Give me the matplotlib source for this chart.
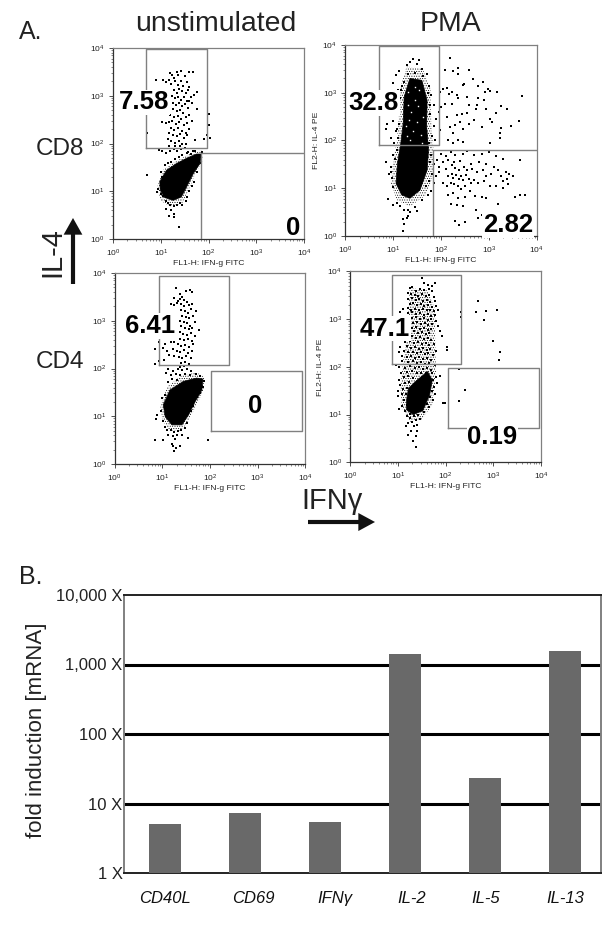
import matplotlib
matplotlib.use('Agg')
import matplotlib.pyplot as plt
import numpy as np

plt.rcParams['font.family'] = ['Liberation Sans', 'DejaVu Sans']
plt.rcParams['mathtext.default'] = 'regular'
plt.rcParams['hatch.linewidth'] = 0.4

W, H = 614, 926

# flow panels: every pair is (log10 FL1, log10 FL2)
# blob = solid core of the population, halo = stippled rim around it
cd8_un_blob = [(0.98,1.20),(1.12,1.44),(1.33,1.58),(1.54,1.69),(1.75,1.78),(1.85,1.78),(1.82,1.58),(1.68,1.37),
               (1.54,1.09),(1.43,0.88),(1.26,0.81),(1.08,0.87),(0.99,1.02)]
cd8_un_halo = [(0.93,1.10),(1.05,1.45),(1.30,1.62),(1.60,1.78),(1.85,1.86),(1.88,1.65),(1.72,1.35),(1.58,1.02),
               (1.45,0.75),(1.20,0.68),(1.00,0.80)]
cd8_un_dots = [(1.19,3.47),(1.24,3.44),(1.33,3.50),(1.43,3.52),(1.50,3.42),(1.60,3.50),(1.67,3.50),(1.37,3.44),
    (1.28,3.38),(0.90,3.33),(1.05,3.32),(1.11,3.28),(1.17,3.34),(1.22,3.25),(1.30,3.30),(1.36,3.22),(1.42,3.30),
    (1.47,3.20),(1.55,3.28),(1.60,3.18),(1.38,3.14),(1.27,3.12),(1.33,3.06),(1.45,3.10),(1.52,3.05),(1.58,3.12),
    (1.70,3.02),(1.76,3.08),(1.63,2.98),(1.24,3.00),(1.29,2.95),(1.36,2.98),(1.42,2.92),(1.48,2.97),(1.54,2.90),
    (1.60,2.88),(1.25,2.85),(1.31,2.80),(1.38,2.84),(1.44,2.78),(1.50,2.82),(1.57,2.75),(1.65,2.85),(1.75,2.72),
    (1.25,2.72),(1.33,2.68),(1.40,2.70),(1.47,2.64),(1.20,2.60),(1.28,2.56),(1.36,2.58),(1.43,2.52),(1.52,2.56),
    (1.60,2.60),(1.02,2.45),(1.10,2.42),(1.17,2.45),(1.24,2.48),(1.31,2.40),(1.38,2.45),(1.48,2.38),(1.56,2.42),
    (1.66,2.48),(1.21,2.32),(1.28,2.28),(1.36,2.33),(1.44,2.26),(1.52,2.22),(1.60,2.30),(0.72,2.22),(1.18,2.22),
    (1.25,2.18),(1.33,2.15),(1.40,2.20),(1.48,2.12),(1.56,2.18),(2.02,2.62),(2.02,2.38),(1.96,2.18),(2.04,2.12),
    (1.90,2.10),(1.72,2.08),(1.15,2.10),(1.22,2.05),(1.30,2.02),(1.38,2.06),(1.45,2.00),(1.52,1.98),(1.40,1.95),
    (1.30,1.94),(1.18,1.95),(0.96,1.86),(1.02,1.84),(1.10,1.80),(1.20,1.85),(1.28,1.88),(1.35,1.84),(1.42,1.88),
    (1.50,1.90),(1.58,1.82),(1.68,1.85),(0.72,1.35),(0.94,1.05),(0.93,0.98),(1.00,0.95),(1.02,1.30),(1.06,1.25),
    (1.00,1.40),(1.05,0.90),(1.10,0.80),(1.15,0.75),(1.20,0.72),(1.27,0.70),(1.33,0.72),(1.40,0.75),(1.45,0.72),
    (1.52,0.80),(1.55,0.88),(1.60,1.00),(1.65,1.10),(1.70,1.20),(1.75,1.40),(1.85,1.60),(1.12,0.62),(1.22,0.60),
    (1.28,0.53),(1.18,0.48),(1.27,0.46),(1.39,0.25),(1.08,1.55),(1.15,1.60),(1.22,1.62),(1.30,1.68),(1.38,1.72),
    (1.45,1.76),(1.55,1.80),(1.63,1.78),(1.72,1.85),(1.86,1.82),(1.82,1.72)]

cd8_pma_blob = [(1.35,3.30),(1.60,3.26),(1.71,2.84),(1.70,2.29),(1.74,1.80),(1.71,1.38),(1.56,0.96),(1.35,0.79),
                (1.18,0.86),(1.06,1.10),(1.09,1.52),(1.16,1.94),(1.21,2.36),(1.23,2.91)]
cd8_pma_halo = [(1.28,3.55),(1.62,3.50),(1.78,3.10),(1.80,2.30),(1.85,1.70),(1.85,1.30),(1.68,0.85),(1.35,0.62),
                (1.08,0.75),(0.95,1.10),(1.00,1.55),(1.08,2.00),(1.12,2.50),(1.15,3.10)]
cd8_pma_specks = [(1.30,3.02),(1.45,2.85),(1.38,2.60),(1.52,2.72),(1.33,2.42),(1.50,2.38),(1.42,2.20),(1.28,2.10),
    (1.58,2.12),(1.36,2.00),(1.55,3.05),(1.32,2.75),(1.62,2.50),(1.26,2.30),(1.46,3.12),(1.60,1.95)]
cd8_pma_dots = [(2.19,3.73),(2.08,3.47),(2.26,3.46),(2.36,3.51),(2.35,3.39),(2.59,3.47),(2.66,3.28),(2.88,3.23),
    (2.45,3.16),(2.48,3.19),(2.78,3.14),(2.99,3.07),(3.02,3.04),(3.16,3.02),(2.91,3.02),(3.69,2.93),(2.12,3.09),
    (2.05,3.07),(2.24,3.02),(2.33,2.95),(2.36,2.90),(2.17,2.98),(2.08,2.77),(2.22,2.77),(2.54,2.91),(2.59,2.74),
    (2.75,2.74),(2.78,2.88),(2.90,2.84),(2.73,2.67),(2.95,2.67),(3.25,2.72),(3.37,2.65),(3.15,2.58),(2.43,2.56),
    (2.54,2.58),(2.33,2.53),(2.12,2.49),(2.19,2.29),(2.29,2.32),(2.40,2.39),(2.47,2.25),(2.68,2.42),(2.59,2.35),
    (3.02,2.46),(3.06,2.39),(3.62,2.41),(3.46,2.30),(3.25,2.27),(2.85,2.29),(3.23,2.15),(3.23,2.06),(3.02,1.95),
    (2.26,2.15),(2.36,2.00),(2.47,1.97),(2.26,1.94),(2.15,2.00),
    (2.00,1.72),(2.10,1.68),(2.20,1.75),(2.30,1.70),(2.45,1.72),(2.55,1.78),(2.70,1.70),(2.85,1.72),(3.00,1.75),
    (3.15,1.68),(3.30,1.62),(3.65,1.59),(2.05,1.55),(2.15,1.60),(2.28,1.55),(2.40,1.58),(2.62,1.50),(2.80,1.55),
    (2.95,1.50),(3.10,1.45),(3.20,1.38),(3.35,1.33),(3.42,1.30),(3.50,1.25),(2.10,1.40),(2.22,1.48),(2.30,1.42),
    (2.38,1.38),(2.48,1.45),(2.55,1.38),(2.65,1.40),(2.75,1.33),(2.87,1.38),(2.95,1.25),(3.05,1.30),(3.25,1.25),
    (3.30,1.15),(3.37,1.20),(2.15,1.25),(2.22,1.30),(2.26,1.22),(2.32,1.28),(2.37,1.20),(2.42,1.25),(2.47,1.18),
    (2.53,1.28),(2.58,1.20),(2.62,1.12),(2.70,1.18),(2.78,1.10),(2.90,1.15),(3.02,1.05),(3.15,1.05),(3.30,1.00),
    (3.40,1.08),(2.05,1.10),(2.12,1.05),(2.20,1.12),(2.28,1.08),(2.35,1.05),(2.42,0.98),(2.50,1.05),(2.60,0.95),
    (2.15,0.85),(2.25,0.90),(2.35,0.80),(2.50,0.82),(2.72,0.83),(2.85,0.82),(2.95,0.80),(3.20,0.68),(3.55,0.82),
    (3.65,0.85),(3.75,0.85),(2.20,0.68),(2.33,0.65),(2.45,0.63),(2.73,0.55),(2.85,0.45),(2.78,0.37),(2.30,0.32),
    (2.38,0.22),(2.50,0.30),(0.90,0.78),(0.95,1.35),(0.85,1.55),(0.92,1.30),(1.00,0.65),(1.08,0.70),(1.15,0.62),
    (1.22,0.55),(1.30,0.55),(1.35,0.50),(1.45,0.60),(1.50,0.52),(1.20,0.35),(1.28,0.38),(1.22,0.25),(1.20,0.10),
    (1.32,0.42),(1.60,0.75),(1.72,0.85),(1.80,0.95),(1.85,1.10),(1.90,1.25),(1.95,1.35),(1.85,1.50),(1.92,1.60),
    (1.80,1.70),(1.75,1.95),(1.82,2.10),(1.85,2.30),(1.90,2.45),(1.95,2.60),(1.85,2.75),(1.80,2.95),(1.75,3.15),
    (1.70,3.40),(1.60,3.50),(1.50,3.60),(1.55,3.68),(1.42,3.70),(1.35,3.65),(1.28,3.58),(1.12,3.45),(1.05,3.38),
    (1.00,3.20),(1.18,3.15),(1.10,3.05),(1.15,2.90),(1.00,2.40),(0.88,2.35),(0.85,2.25),(1.05,2.20),(0.95,2.05),
    (1.02,1.95),(1.08,1.80),(1.00,1.70),(0.95,1.45),(1.78,1.55),(1.82,1.30),(1.75,1.15),(1.68,1.05),(1.88,2.00),
    (1.78,2.55),(1.76,2.75),(1.72,3.00),(1.62,3.35),(1.45,3.42),(1.30,3.40),(1.22,3.22),(1.16,3.05),(1.12,2.35),
    (1.08,2.25),(1.10,2.05),(1.03,1.62),(0.98,1.22),(1.00,1.02),(1.95,1.45),(1.97,2.22),(2.00,2.70),(1.98,3.02)]

cd4_un_blob = [(1.02,1.24),(1.16,1.55),(1.44,1.73),(1.72,1.80),(1.85,1.78),(1.83,1.55),(1.69,1.31),(1.55,1.03),
               (1.41,0.82),(1.20,0.82),(1.06,0.99)]
cd4_un_halo = [(0.96,1.20),(1.10,1.62),(1.40,1.85),(1.72,1.92),(1.88,1.82),(1.86,1.52),(1.70,1.20),(1.55,0.90),
               (1.40,0.70),(1.15,0.70),(1.00,0.92)]
cd4_un_dots = [(1.29,3.68),(1.36,3.55),(1.42,3.50),(1.50,3.62),(1.58,3.65),(1.62,3.60),(1.25,3.48),(1.32,3.42),
    (1.38,3.46),(1.45,3.44),(1.52,3.40),(1.18,3.35),(1.25,3.32),(1.30,3.38),(1.40,3.35),(1.46,3.30),(1.55,3.32),
    (1.62,3.36),(1.70,3.20),(1.40,3.22),(1.48,3.20),(1.54,3.16),(1.60,3.24),(1.42,3.10),(1.50,3.08),(1.56,3.05),
    (1.64,3.10),(1.38,3.00),(1.45,2.98),(1.52,2.95),(1.58,2.90),(1.68,2.98),(1.40,2.88),(1.48,2.85),(1.55,2.82),
    (1.62,2.85),(1.76,2.80),(1.36,2.76),(1.44,2.72),(1.52,2.70),(1.60,2.74),(1.68,2.68),(1.38,2.62),(1.46,2.60),
    (1.54,2.62),(1.62,2.58),(0.92,2.55),(1.05,2.52),(1.18,2.55),(1.25,2.56),(1.32,2.52),(1.40,2.48),(1.48,2.50),
    (1.56,2.46),(1.65,2.52),(0.85,2.40),(1.02,2.42),(1.10,2.36),(1.22,2.40),(1.30,2.36),(1.38,2.34),(1.46,2.38),
    (1.54,2.32),(1.62,2.36),(1.14,2.28),(1.24,2.26),(1.34,2.24),(1.42,2.22),(1.50,2.26),(1.60,2.22),(0.84,2.10),
    (0.93,2.16),(1.03,2.18),(1.40,2.12),(1.48,2.14),(1.55,2.10),(1.36,2.04),(1.46,2.06),(1.12,2.00),(1.22,1.95),
    (1.32,1.98),(1.42,1.96),(1.52,1.98),(1.60,1.94),(1.08,1.90),(1.18,1.86),(1.28,1.88),(1.38,1.86),(1.48,1.88),
    (1.58,1.86),(1.70,1.88),(1.80,1.84),(1.12,1.72),(1.20,1.78),(1.30,1.76),(1.88,1.74),(1.86,1.62),(1.78,1.48),
    (1.72,1.40),(1.65,1.22),(1.60,1.10),(1.06,1.45),(1.00,1.38),(0.88,1.02),(0.86,0.95),(0.97,1.10),(1.02,0.90),
    (1.05,0.78),(1.10,0.72),(1.18,0.72),(1.25,0.68),(1.32,0.70),(1.40,0.72),(1.48,0.75),(1.52,0.85),(1.12,0.60),
    (1.22,0.58),(1.30,0.60),(1.42,0.60),(1.26,0.52),(0.85,0.50),(1.02,0.50),(1.20,0.42),(1.22,0.38),(1.28,0.34),
    (1.37,0.38),(1.53,0.55),(1.95,0.50),(1.25,0.28)]

cd4_pma_blob = [(1.18,1.30),(1.22,1.55),(1.40,1.72),(1.62,1.90),(1.72,1.72),(1.66,1.40),(1.52,1.08),(1.32,1.00),
                (1.18,1.10)]
cd4_pma_halo = [(1.25,3.65),(1.62,3.60),(1.78,3.20),(1.78,2.50),(1.80,1.90),(1.72,1.20),(1.50,0.90),(1.25,0.85),
                (1.08,1.15),(1.05,1.60),(1.12,2.20),(1.20,2.70),(1.22,3.20)]
cd4_pma_dots = [(1.50,3.85),(1.55,3.75),(1.62,3.72),(1.72,3.70),(1.78,3.75),(1.25,3.65),(1.30,3.68),(1.38,3.58),
    (1.46,3.62),(1.54,3.60),(1.65,3.62),(1.72,3.58),(1.20,3.55),(1.28,3.52),(1.35,3.50),(1.42,3.48),(1.50,3.52),
    (1.58,3.48),(1.66,3.50),(1.75,3.46),(1.22,3.42),(1.30,3.44),(1.37,3.40),(1.45,3.42),(1.52,3.38),(1.60,3.40),
    (1.68,3.36),(1.78,3.38),(1.25,3.32),(1.32,3.34),(1.40,3.30),(1.48,3.32),(1.55,3.28),(1.63,3.30),(1.72,3.26),
    (1.80,3.28),(1.10,3.22),(1.20,3.24),(1.28,3.20),(1.36,3.22),(1.44,3.18),(1.52,3.22),(1.60,3.18),(1.68,3.20),
    (1.76,3.16),(1.84,3.18),(1.05,3.14),(1.22,3.12),(1.30,3.14),(1.38,3.10),(1.46,3.12),(1.54,3.08),(1.62,3.10),
    (1.70,3.06),(1.78,3.08),(1.30,3.02),(1.38,3.04),(1.46,3.00),(1.54,3.02),(1.62,2.98),(1.70,3.00),(1.80,2.96),
    (1.32,2.92),(1.40,2.94),(1.48,2.90),(1.56,2.92),(1.64,2.88),(1.72,2.90),(1.84,2.86),(1.30,2.82),(1.38,2.84),
    (1.46,2.80),(1.54,2.82),(1.62,2.78),(1.70,2.80),(1.88,2.76),(1.24,2.72),(1.34,2.74),(1.42,2.70),(1.50,2.72),
    (1.58,2.68),(1.66,2.70),(1.92,2.64),(1.20,2.62),(1.30,2.64),(1.38,2.60),(1.46,2.62),(1.54,2.58),(1.62,2.60),
    (1.70,2.56),(2.03,2.42),(1.14,2.52),(1.25,2.54),(1.34,2.50),(1.42,2.52),(1.50,2.48),(1.58,2.50),(1.66,2.46),
    (1.76,2.48),(1.05,2.42),(1.18,2.44),(1.28,2.40),(1.36,2.42),(1.44,2.38),(1.52,2.40),(1.60,2.36),(1.68,2.38),
    (1.80,2.34),(1.02,2.30),(1.12,2.34),(1.22,2.30),(1.32,2.32),(1.40,2.28),(1.48,2.30),(1.56,2.26),(1.64,2.28),
    (1.74,2.24),(1.08,2.22),(1.18,2.20),(1.28,2.22),(1.36,2.18),(1.44,2.20),(1.52,2.16),(1.60,2.18),(1.70,2.14),
    (0.95,2.04),(1.08,2.12),(1.22,2.10),(1.32,2.12),(1.40,2.08),(1.48,2.10),(1.56,2.06),(1.66,2.08),(1.78,2.04),
    (1.02,2.00),(1.14,1.98),(1.25,2.02),(1.36,1.98),(1.44,2.00),(1.52,1.96),(1.60,1.98),(1.70,1.94),(1.88,1.80),
    (1.06,1.88),(1.18,1.90),(1.30,1.92),(1.40,1.88),(1.48,1.86),(1.58,1.88),(1.72,1.86),(1.80,1.78),(1.02,1.72),
    (1.12,1.78),(1.22,1.80),(1.32,1.76),(1.74,1.72),(1.82,1.66),(1.04,1.62),(1.14,1.66),(1.24,1.68),(1.76,1.58),
    (1.00,1.50),(1.10,1.54),(1.18,1.56),(1.72,1.50),(1.78,1.42),(1.00,1.38),(1.08,1.42),(1.16,1.44),(1.68,1.36),
    (1.74,1.30),(1.12,1.30),(1.18,1.20),(1.08,1.18),(1.02,1.12),(1.15,1.08),(1.25,1.02),(1.60,1.22),(1.66,1.15),
    (1.54,1.05),(1.42,1.00),(1.33,0.96),(1.25,0.92),(1.18,0.98),(1.30,0.85),(1.38,0.88),(1.46,0.90),(1.22,0.82),
    (1.33,0.75),(1.40,0.78),(1.16,0.75),(1.28,0.66),(1.40,0.66),(1.20,0.58),(1.38,0.55),(1.32,0.45),(1.38,0.33),
    (1.95,1.25),(2.02,2.35),(2.32,3.15),(2.32,3.05),(2.68,3.38),(2.63,3.15),(2.85,3.17),(2.80,2.98),(3.07,3.20),
    (3.00,2.55),(3.13,2.31),(3.12,2.15),(2.27,1.95),(2.40,1.52),(2.27,1.28),(1.98,1.25)]

# (x low, x high, y low, y high) of the gates, in data units of log10
cd8_un_gates = [(0.70, 1.97, 1.91, 3.97)]
cd8_pma_gates = [(0.70, 1.965, 1.91, 3.97)]
cd4_un_gates = [(0.93, 2.39, 2.08, 3.93), (2.02, 3.93, 0.69, 1.94)]
cd4_pma_gates = [(0.87, 2.33, 2.06, 3.93), (2.05, 3.96, 0.71, 1.97)]

# bar chart
genes = ['CD40L', 'CD69', 'IFNγ', 'IL-2', 'IL-5', 'IL-13']
fold_induction = [5.0, 7.2, 5.5, 1400, 23, 1570]
fold_ticks = [1, 10, 100, 1000, 10000]
fold_tick_labels = ['1 X', '10 X', '100 X', '1,000 X', '10,000 X']
gene_label_pos = [0.0, 1.11, 2.125, 3.08, 4.01, 5.0]

GREY = '#808080'


def px_axes(fig, left, top, right, bottom):
    """add axes from pixel edges measured from the top left corner"""
    return fig.add_axes([left / W, 1 - bottom / H, (right - left) / W, (bottom - top) / H])


def label(fig, x, y, s, **kw):
    kw.setdefault('ha', 'center')
    kw.setdefault('va', 'center')
    return fig.text(x / W, 1 - y / H, s, **kw)


def flow_panel(fig, box, blob, halo, dots, gates):
    ax = px_axes(fig, *box)
    ax.set_xscale('log')
    ax.set_yscale('log')
    ax.set_xlim(1, 1e4)
    ax.set_ylim(1, 1e4)
    h = np.array(halo)
    ax.fill(10 ** h[:, 0], 10 ** h[:, 1], facecolor='none', edgecolor='black', hatch='.......', lw=0, zorder=1)
    b = np.array(blob)
    ax.fill(10 ** b[:, 0], 10 ** b[:, 1], color='black', lw=0.5, zorder=2)
    d = np.array(dots)
    ax.plot(10 ** d[:, 0], 10 ** d[:, 1], 's', ms=1.5, mew=0, color='black', zorder=3)
    for x0, x1, y0, y1 in gates:
        ax.plot(10 ** np.array([x0, x1, x1, x0, x0]), 10 ** np.array([y0, y0, y1, y1, y0]),
                color=GREY, lw=1.0, zorder=4)
    ax.tick_params(which='major', length=3, width=0.6, labelsize=6, pad=3, color='#333333', labelcolor='#222222')
    ax.tick_params(which='minor', length=1.5, width=0.4, color='#333333')
    ax.spines['left'].set_color('#333333')
    ax.spines['bottom'].set_color('#333333')
    ax.spines['top'].set_color(GREY)
    ax.spines['right'].set_color(GREY)
    for s in ax.spines.values():
        s.set_linewidth(0.9)
    ax.set_xlabel('FL1-H: IFN-g FITC', fontsize=6.1, labelpad=0.8, color='#222222')
    return ax


def number(ax, x, y, s):
    ax.text(10 ** x, 10 ** y, s, fontsize=18.5, fontweight='bold', ha='center', va='center', zorder=6,
            bbox=dict(facecolor='white', edgecolor='none', pad=0.5))


fig = plt.figure(figsize=(W / 100, H / 100), dpi=100)

ax = flow_panel(fig, (113, 48, 304, 239), cd8_un_blob, cd8_un_halo, cd8_un_dots, cd8_un_gates)
ax.plot([70, 70, 1e4], [1, 63, 63], color=GREY, lw=1.0, zorder=4)
number(ax, 0.645, 2.86, '7.58')
ax.text(10 ** 3.78, 10 ** 0.22, '0', fontsize=18.5, fontweight='bold', ha='center', va='center', zorder=6)

ax = flow_panel(fig, (345.3, 45, 536.7, 236), cd8_pma_blob, cd8_pma_halo, cd8_pma_dots, cd8_pma_gates)
ax.plot([69, 69, 1e4], [1, 63, 63], color=GREY, lw=1.0, zorder=4)
s = np.array(cd8_pma_specks)
ax.plot(10 ** s[:, 0], 10 ** s[:, 1], 's', ms=1.0, mew=0, color='white', zorder=3)
number(ax, 0.595, 2.78, '32.8')
number(ax, 3.40, 0.22, '2.82')

ax = flow_panel(fig, (114.7, 273, 305.3, 464), cd4_un_blob, cd4_un_halo, cd4_un_dots, cd4_un_gates)
number(ax, 0.75, 2.89, '6.41')
number(ax, 2.95, 1.21, '0')

ax = flow_panel(fig, (350.3, 271.3, 541, 462.3), cd4_pma_blob, cd4_pma_halo, cd4_pma_dots, cd4_pma_gates)
number(ax, 0.72, 2.80, '47.1')
number(ax, 2.98, 0.54, '0.19')

label(fig, 317, 140, 'FL2-H: IL-4 PE', fontsize=6.1, rotation=90, color='#222222')
label(fig, 321, 367, 'FL2-H: IL-4 PE', fontsize=6.1, rotation=90, color='#222222')

label(fig, 31, 32, 'A.', fontsize=18, color='#222222')
label(fig, 216, 24, 'unstimulated', fontsize=20.4, color='#222222')
label(fig, 450, 24, 'PMA', fontsize=20.4, color='#222222')
label(fig, 60, 149, 'CD8', fontsize=17.5, color='#222222')
label(fig, 60, 362, 'CD4', fontsize=17.5, color='#222222')
label(fig, 52, 252, 'IL-4', fontsize=21, rotation=90, color='#222222')
label(fig, 332, 501, 'IFNγ', fontsize=21, color='#222222')
label(fig, 31, 577, 'B.', fontsize=18, color='#222222')

# black arrows beside the two axis names
overlay = fig.add_axes([0, 0, 1, 1])
overlay.set_xlim(0, W)
overlay.set_ylim(H, 0)
overlay.axis('off')
overlay.patch.set_alpha(0)
overlay.annotate('', xy=(73, 218), xytext=(73, 284),
                 arrowprops=dict(facecolor='#111111', edgecolor='none', width=3, headwidth=13.5, headlength=12, shrink=0))
overlay.annotate('', xy=(375, 522), xytext=(308, 522),
                 arrowprops=dict(facecolor='#111111', edgecolor='none', width=3, headwidth=13, headlength=12, shrink=0))

# panel B
ax = px_axes(fig, 124, 595, 601, 873)
x = np.arange(len(genes))
ax.set_yscale('log')
ax.set_xlim((124 - 165) / 80, (601 - 165) / 80)
ax.set_ylim(1, 1e4)
ax.bar(x, fold_induction, width=0.4, color='#696969', zorder=3)
for v in fold_ticks[1:-1]:
    ax.axhline(v, color='black', lw=2.2, zorder=2)
ax.set_yticks(fold_ticks)
ax.set_yticklabels(fold_tick_labels, fontsize=12, color='#222222', va='center_baseline')
ax.minorticks_off()
ax.tick_params(axis='y', length=0, pad=1)
ax.set_xticks(gene_label_pos)
ax.set_xticklabels(genes, fontsize=12, fontstyle='italic', color='#111111')
ax.tick_params(axis='x', length=0, pad=13)
for name, s in ax.spines.items():
    s.set_color(GREY)
    s.set_linewidth(1.4)
ax.spines['bottom'].set_color('#222222')
ax.spines['top'].set_color('#222222')
label(fig, 37, 730, 'fold induction [mRNA]', fontsize=16, rotation=90, color='#222222')

fig.savefig('out.png', dpi=100)
